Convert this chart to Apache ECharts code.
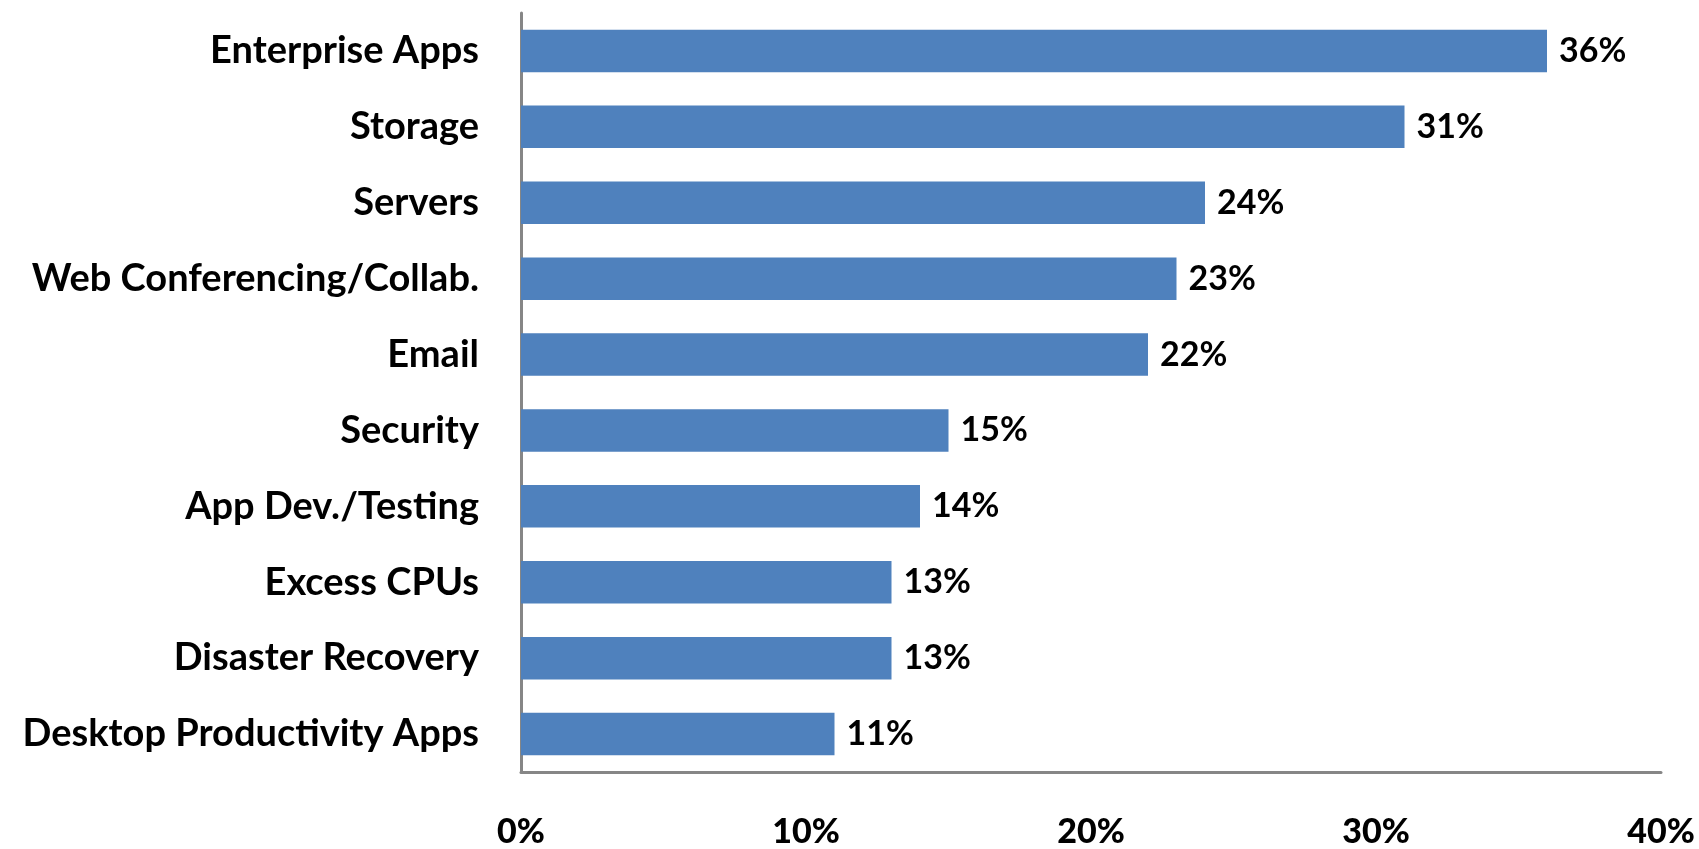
<!DOCTYPE html>
<html>
<head>
<meta charset="utf-8">
<script src="https://cdn.jsdelivr.net/npm/echarts@6/dist/echarts.min.js"></script>
<style>
html,body{margin:0;padding:0;background:#fff;}
#chart{width:1699px;height:849px;}
</style>
</head>
<body>
<div id="chart"></div>
<script>
const categories = ["Enterprise Apps","Storage","Servers","Web Conferencing/Collab.","Email","Security","App Dev./Testing","Excess CPUs","Disaster Recovery","Desktop Productivity Apps"];
const values = [36,31,24,23,22,15,14,13,13,11];
const xTicks = [0,10,20,30,40];

const chart = echarts.init(document.getElementById('chart'));
const font = 'Lato, "Open Sans", sans-serif';
chart.setOption({
  animation:false,
  grid:{left:521,right:38,top:13,bottom:74,containLabel:false},
  xAxis:{
    type:'value',min:xTicks[0],max:xTicks[xTicks.length-1],interval:10,
    axisLine:{show:true,lineStyle:{color:'#868686',width:3}},
    axisTick:{show:false},
    splitLine:{show:false},
    axisLabel:{formatter:v=>v+'%',margin:43,color:'#000',fontFamily:font,fontWeight:900,fontSize:34}
  },
  yAxis:{
    type:'category',data:categories,inverse:true,
    axisLine:{show:true,lineStyle:{color:'#868686',width:3}},
    axisTick:{show:false},
    axisLabel:{margin:42,color:'#000',fontFamily:font,fontWeight:'bold',fontSize:38}
  },
  series:[{
    type:'bar',data:values,barCategoryGap:'44%',
    itemStyle:{color:'#4F81BD'},
    label:{show:true,position:'right',distance:12,formatter:p=>p.value+'%',color:'#000',fontFamily:font,fontWeight:'bold',fontSize:34}
  }]
});
</script>
</body>
</html>
